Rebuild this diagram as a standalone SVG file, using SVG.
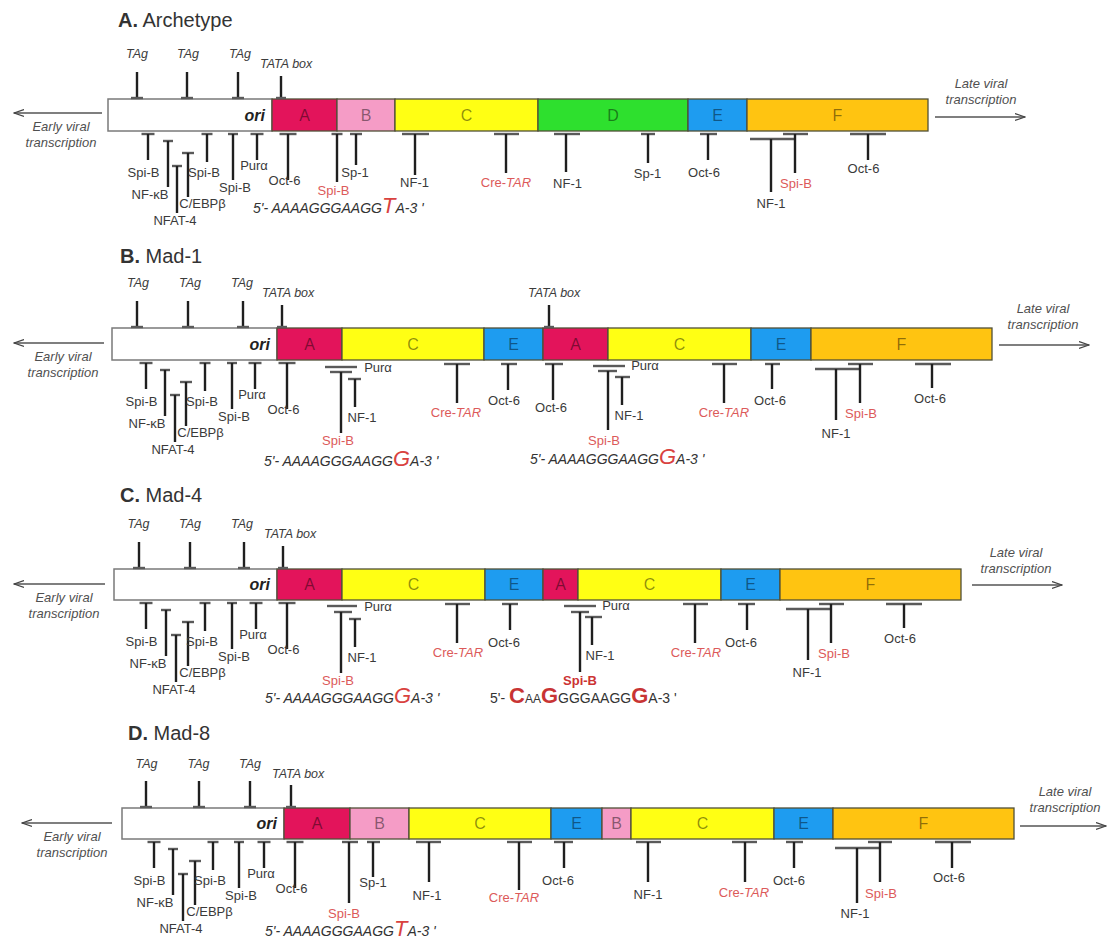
<svg xmlns="http://www.w3.org/2000/svg" width="1108" height="947" viewBox="0 0 1108 947">
<style>
text{font-family:"Liberation Sans",Arial,sans-serif}
.ttl{font-size:20px;fill:#333}
.lb{font-size:13px;fill:#3a3a3a;text-anchor:middle}
.rd{fill:#dc5a5a}
.bd{font-weight:bold;fill:#cc3333}
.tag{font-size:12.5px;font-style:italic;fill:#3c3c3c;text-anchor:middle}
.tata{font-size:12.5px;font-style:italic;fill:#3c3c3c}
.tr{font-size:13px;font-style:italic;fill:#505050;text-anchor:middle}
.seq{font-size:14px;font-style:italic;fill:#333}
.sequ{font-size:14px;fill:#333}
.big{font-size:22px;fill:#d9423f}
.bigb{font-size:22px;font-weight:bold;fill:#c83434}
.stem{stroke:#1f1f1f;stroke-width:2.4;fill:none}
.bar{stroke:#5a5a5a;stroke-width:2.4;fill:none}
.blk{stroke:#505038;stroke-width:1.3}
.box{fill:#fff;stroke:#7a7a7a;stroke-width:1.5}
.bl{font-size:16px;fill:#000;fill-opacity:.45;text-anchor:middle}
.ori{font-size:16px;font-weight:bold;font-style:italic;fill:#222;text-anchor:end}
.arr{stroke:#555;stroke-width:1.3;fill:none;marker-end:url(#ah)}
.cA{fill:#e3145b}.cB{fill:#f59cc6}.cC{fill:#ffff14}.cD{fill:#2ee02e}.cE{fill:#1e9cf0}.cF{fill:#ffc411}
</style>
<defs>
<marker id="ah" markerWidth="11" markerHeight="9" refX="10" refY="4.5" orient="auto" markerUnits="userSpaceOnUse">
<path d="M0,1 L10,4.5 L0,8" fill="none" stroke="#444" stroke-width="1.2"/>
</marker>
</defs>

<!-- ================= PANEL A ================= -->
<g id="panel-A">
<text class="ttl" x="118" y="27"><tspan font-weight="bold">A.</tspan> Archetype</text>
<g id="A-connectors">
<path class="arr" d="M102 113H14"/>
<path class="arr" d="M935 117H1025"/>
</g>
<text class="tr" x="61" y="131">Early viral</text><text class="tr" x="61" y="147">transcription</text>
<text class="tr" x="981" y="88">Late viral</text><text class="tr" x="981" y="104">transcription</text>
<g id="A-ori"><rect class="box" x="108" y="99" width="164" height="32"/><text class="ori" x="265" y="121">ori</text></g>
<g id="A-bA"><rect class="blk cA" x="272" y="99" width="65" height="32"/><text class="bl" x="304.5" y="121">A</text></g>
<g id="A-bB"><rect class="blk cB" x="337" y="99" width="58" height="32"/><text class="bl" x="366" y="121">B</text></g>
<g id="A-bC"><rect class="blk cC" x="395" y="99" width="143" height="32"/><text class="bl" x="466.5" y="121">C</text></g>
<g id="A-bD"><rect class="blk cD" x="538" y="99" width="150" height="32"/><text class="bl" x="613" y="121">D</text></g>
<g id="A-bE"><rect class="blk cE" x="688" y="99" width="59" height="32"/><text class="bl" x="717.5" y="121">E</text></g>
<g id="A-bF"><rect class="blk cF" x="747" y="99" width="181" height="32"/><text class="bl" x="837.5" y="121">F</text></g>
<g id="A-tag1"><path class="stem" d="M137 72V98"/><path class="bar" d="M131 98H143"/><text class="tag" x="137" y="58">TAg</text></g>
<g id="A-tag2"><path class="stem" d="M187 72V98"/><path class="bar" d="M181 98H193"/><text class="tag" x="188" y="58">TAg</text></g>
<g id="A-tag3"><path class="stem" d="M238 72V98"/><path class="bar" d="M232 98H244"/><text class="tag" x="240" y="58">TAg</text></g>
<g id="A-tata"><path class="stem" d="M281 76V98"/><path class="bar" d="M276 98H286"/><text class="tata" x="260" y="68">TATA box</text></g>
<g id="A-s1"><path class="bar" d="M141.5 134H154.5"/><path class="stem" d="M148 134V160"/><text class="lb" x="143.5" y="177">Spi-B</text></g>
<g id="A-s2"><path class="bar" d="M163 141H173"/><path class="stem" d="M168 141V187"/><text class="lb" x="150" y="199">NF-κB</text></g>
<g id="A-s3"><path class="bar" d="M172 166H182"/><path class="stem" d="M177 166V213"/><text class="lb" x="175" y="225">NFAT-4</text></g>
<g id="A-s4"><path class="bar" d="M182 153H194"/><path class="stem" d="M188 153V197"/><text class="lb" x="202.5" y="208">C/EBPβ</text></g>
<g id="A-s5"><path class="bar" d="M201.5 134H212.5"/><path class="stem" d="M207 134V162"/><text class="lb" x="204" y="177">Spi-B</text></g>
<g id="A-s6"><path class="bar" d="M228 134H238"/><path class="stem" d="M233 134V180"/><text class="lb" x="235" y="192">Spi-B</text></g>
<g id="A-s7"><path class="bar" d="M250.5 134H263.5"/><path class="stem" d="M257 134V160"/><text class="lb" x="254" y="170">Purα</text></g>
<g id="A-s8"><path class="bar" d="M279.5 134H296.5"/><path class="stem" d="M288 134V180"/><text class="lb" x="284.5" y="185">Oct-6</text></g>
<g id="A-s9"><path class="bar" d="M331.5 134H342.5"/><path class="stem" d="M337 134V182"/><text class="lb rd" x="333.5" y="195">Spi-B</text></g>
<g id="A-s10"><path class="bar" d="M350 134H362"/><path class="stem" d="M356 134V165"/><text class="lb" x="355" y="177">Sp-1</text></g>
<g id="A-s11"><path class="bar" d="M402 134H429"/><path class="stem" d="M415 134V175"/><text class="lb" x="414.5" y="187">NF-1</text></g>
<g id="A-s12"><path class="bar" d="M494 134H519"/><path class="stem" d="M506 134V173"/><text class="lb rd" x="506" y="187">Cre-<tspan font-style="italic">TAR</tspan></text></g>
<g id="A-s13"><path class="bar" d="M554 134H580"/><path class="stem" d="M566 134V172"/><text class="lb" x="567.5" y="188">NF-1</text></g>
<g id="A-s14"><path class="bar" d="M641 134H655"/><path class="stem" d="M648 134V163"/><text class="lb" x="647.5" y="178">Sp-1</text></g>
<g id="A-s15"><path class="bar" d="M700 134H717"/><path class="stem" d="M708 134V160"/><text class="lb" x="704" y="177">Oct-6</text></g>
<g id="A-s16"><path class="bar" d="M750 139H794"/><path class="stem" d="M771 139V192"/><text class="lb" x="771" y="208">NF-1</text></g>
<g id="A-s17"><path class="bar" d="M783 134H808"/><path class="stem" d="M795 134V173"/><text class="lb rd" x="796" y="188">Spi-B</text></g>
<g id="A-s18"><path class="bar" d="M850 134H886"/><path class="stem" d="M868 134V160"/><text class="lb" x="863.5" y="173">Oct-6</text></g>
<text class="seq" x="253" y="213">5'- AAAAGGGAAGG<tspan class="big">T</tspan>A-3 '</text>
</g>

<!-- ================= PANEL B ================= -->
<g id="panel-B">
<text class="ttl" x="120" y="263"><tspan font-weight="bold">B.</tspan> Mad-1</text>
<g id="B-connectors">
<path class="arr" d="M104 343H14"/>
<path class="arr" d="M999 345H1089"/>
</g>
<text class="tr" x="63" y="361">Early viral</text><text class="tr" x="63" y="377">transcription</text>
<text class="tr" x="1043" y="313">Late viral</text><text class="tr" x="1043" y="329">transcription</text>
<g id="B-ori"><rect class="box" x="112" y="328" width="165" height="32"/><text class="ori" x="270" y="350">ori</text></g>
<g id="B-bA1"><rect class="blk cA" x="277" y="328" width="65" height="32"/><text class="bl" x="309.5" y="350">A</text></g>
<g id="B-bC1"><rect class="blk cC" x="342" y="328" width="142" height="32"/><text class="bl" x="413" y="350">C</text></g>
<g id="B-bE1"><rect class="blk cE" x="484" y="328" width="59" height="32"/><text class="bl" x="513.5" y="350">E</text></g>
<g id="B-bA2"><rect class="blk cA" x="543" y="328" width="65" height="32"/><text class="bl" x="575.5" y="350">A</text></g>
<g id="B-bC2"><rect class="blk cC" x="608" y="328" width="143" height="32"/><text class="bl" x="679.5" y="350">C</text></g>
<g id="B-bE2"><rect class="blk cE" x="751" y="328" width="60" height="32"/><text class="bl" x="781" y="350">E</text></g>
<g id="B-bF"><rect class="blk cF" x="811" y="328" width="181" height="32"/><text class="bl" x="901.5" y="350">F</text></g>
<g id="B-tag1"><path class="stem" d="M137 301V327"/><path class="bar" d="M131 327H143"/><text class="tag" x="138" y="287">TAg</text></g>
<g id="B-tag2"><path class="stem" d="M188 301V327"/><path class="bar" d="M182 327H194"/><text class="tag" x="190" y="287">TAg</text></g>
<g id="B-tag3"><path class="stem" d="M243 301V327"/><path class="bar" d="M237 327H249"/><text class="tag" x="242" y="287">TAg</text></g>
<g id="B-tata1"><path class="stem" d="M282 305V327"/><path class="bar" d="M277 327H287"/><text class="tata" x="262" y="297">TATA box</text></g>
<g id="B-tata2"><path class="stem" d="M549 305V327"/><path class="bar" d="M544 327H554"/><text class="tata" x="528" y="297">TATA box</text></g>
<g id="B-s1"><path class="bar" d="M139.5 363H152.5"/><path class="stem" d="M146 363V389"/><text class="lb" x="141.5" y="406">Spi-B</text></g>
<g id="B-s2"><path class="bar" d="M160 370H170"/><path class="stem" d="M165 370V416"/><text class="lb" x="147" y="428">NF-κB</text></g>
<g id="B-s3"><path class="bar" d="M170 395H180"/><path class="stem" d="M175 395V442"/><text class="lb" x="173" y="454">NFAT-4</text></g>
<g id="B-s4"><path class="bar" d="M180 382H192"/><path class="stem" d="M186 382V426"/><text class="lb" x="200.5" y="437">C/EBPβ</text></g>
<g id="B-s5"><path class="bar" d="M199.5 363H210.5"/><path class="stem" d="M205 363V391"/><text class="lb" x="202" y="406">Spi-B</text></g>
<g id="B-s6"><path class="bar" d="M227 363H237"/><path class="stem" d="M232 363V409"/><text class="lb" x="234" y="421">Spi-B</text></g>
<g id="B-s7"><path class="bar" d="M248.5 363H261.5"/><path class="stem" d="M255 363V389"/><text class="lb" x="252" y="399">Purα</text></g>
<g id="B-s8"><path class="bar" d="M278.5 363H295.5"/><path class="stem" d="M287 363V409"/><text class="lb" x="283.5" y="414">Oct-6</text></g>
<g id="B-s9"><path class="bar" d="M325 367H357"/><text class="lb" x="378" y="372">Purα</text></g>
<g id="B-s10"><path class="bar" d="M330 372H352"/><path class="stem" d="M341 372V433"/><text class="lb rd" x="338" y="445">Spi-B</text></g>
<g id="B-s11"><path class="bar" d="M348 379H361"/><path class="stem" d="M355 379V407"/><text class="lb" x="362" y="422">NF-1</text></g>
<g id="B-s12"><path class="bar" d="M444 364H470"/><path class="stem" d="M457 364V403"/><text class="lb rd" x="456" y="417">Cre-<tspan font-style="italic">TAR</tspan></text></g>
<g id="B-s13"><path class="bar" d="M501 364H517"/><path class="stem" d="M508 364V390"/><text class="lb" x="504" y="405">Oct-6</text></g>
<g id="B-s14"><path class="bar" d="M545 364H563"/><path class="stem" d="M553 364V400"/><text class="lb" x="551" y="412">Oct-6</text></g>
<g id="B-s15"><path class="bar" d="M593 366H625"/><text class="lb" x="645" y="370">Purα</text></g>
<g id="B-s16"><path class="bar" d="M598 371H617"/><path class="stem" d="M608 371V430"/><text class="lb rd" x="604" y="445">Spi-B</text></g>
<g id="B-s17"><path class="bar" d="M615 377H630"/><path class="stem" d="M622 377V405"/><text class="lb" x="629" y="420">NF-1</text></g>
<g id="B-s18"><path class="bar" d="M712 364H737"/><path class="stem" d="M724 364V403"/><text class="lb rd" x="724" y="417">Cre-<tspan font-style="italic">TAR</tspan></text></g>
<g id="B-s19"><path class="bar" d="M765 364H780"/><path class="stem" d="M772 364V389"/><text class="lb" x="770" y="405">Oct-6</text></g>
<g id="B-s20"><path class="bar" d="M815 369H859"/><path class="stem" d="M836 369V420"/><text class="lb" x="836" y="438">NF-1</text></g>
<g id="B-s21"><path class="bar" d="M848 364H873"/><path class="stem" d="M860 364V403"/><text class="lb rd" x="861" y="418">Spi-B</text></g>
<g id="B-s22"><path class="bar" d="M915 364H951"/><path class="stem" d="M932 364V388"/><text class="lb" x="930" y="403">Oct-6</text></g>
<text class="seq" x="264" y="466">5'- AAAAGGGAAGG<tspan class="big">G</tspan>A-3 '</text>
<text class="seq" x="530" y="464">5'- AAAAGGGAAGG<tspan class="big">G</tspan>A-3 '</text>
</g>

<!-- ================= PANEL C ================= -->
<g id="panel-C">
<text class="ttl" x="120" y="502"><tspan font-weight="bold">C.</tspan> Mad-4</text>
<g id="C-connectors">
<path class="arr" d="M105 584H14"/>
<path class="arr" d="M972 585H1062"/>
</g>
<text class="tr" x="64" y="602">Early viral</text><text class="tr" x="64" y="618">transcription</text>
<text class="tr" x="1016" y="557">Late viral</text><text class="tr" x="1016" y="573">transcription</text>
<g id="C-ori"><rect class="box" x="114" y="569" width="163" height="31"/><text class="ori" x="270" y="590">ori</text></g>
<g id="C-bA1"><rect class="blk cA" x="277" y="569" width="65" height="31"/><text class="bl" x="309.5" y="590">A</text></g>
<g id="C-bC1"><rect class="blk cC" x="342" y="569" width="143" height="31"/><text class="bl" x="413.5" y="590">C</text></g>
<g id="C-bE1"><rect class="blk cE" x="485" y="569" width="58" height="31"/><text class="bl" x="514" y="590">E</text></g>
<g id="C-bA2"><rect class="blk cA" x="543" y="569" width="35" height="31"/><text class="bl" x="560.5" y="590">A</text></g>
<g id="C-bC2"><rect class="blk cC" x="578" y="569" width="143" height="31"/><text class="bl" x="649.5" y="590">C</text></g>
<g id="C-bE2"><rect class="blk cE" x="721" y="569" width="59" height="31"/><text class="bl" x="750.5" y="590">E</text></g>
<g id="C-bF"><rect class="blk cF" x="780" y="569" width="181" height="31"/><text class="bl" x="870.5" y="590">F</text></g>
<g id="C-tag1"><path class="stem" d="M139 542V568"/><path class="bar" d="M133 568H145"/><text class="tag" x="138.5" y="528">TAg</text></g>
<g id="C-tag2"><path class="stem" d="M190 542V568"/><path class="bar" d="M184 568H196"/><text class="tag" x="190" y="528">TAg</text></g>
<g id="C-tag3"><path class="stem" d="M244 542V568"/><path class="bar" d="M238 568H250"/><text class="tag" x="242" y="528">TAg</text></g>
<g id="C-tata"><path class="stem" d="M283 546V568"/><path class="bar" d="M278 568H288"/><text class="tata" x="264" y="538">TATA box</text></g>
<g id="C-s1"><path class="bar" d="M139.5 603H152.5"/><path class="stem" d="M146 603V629"/><text class="lb" x="141.5" y="646">Spi-B</text></g>
<g id="C-s2"><path class="bar" d="M161 610H171"/><path class="stem" d="M166 610V656"/><text class="lb" x="148" y="668">NF-κB</text></g>
<g id="C-s3"><path class="bar" d="M171 635H181"/><path class="stem" d="M176 635V682"/><text class="lb" x="174" y="694">NFAT-4</text></g>
<g id="C-s4"><path class="bar" d="M182 622H194"/><path class="stem" d="M188 622V666"/><text class="lb" x="202.5" y="677">C/EBPβ</text></g>
<g id="C-s5"><path class="bar" d="M199.5 603H210.5"/><path class="stem" d="M205 603V631"/><text class="lb" x="202" y="646">Spi-B</text></g>
<g id="C-s6"><path class="bar" d="M227 603H237"/><path class="stem" d="M232 603V649"/><text class="lb" x="234" y="661">Spi-B</text></g>
<g id="C-s7"><path class="bar" d="M249.5 603H262.5"/><path class="stem" d="M256 603V629"/><text class="lb" x="253" y="639">Purα</text></g>
<g id="C-s8"><path class="bar" d="M278.5 603H295.5"/><path class="stem" d="M287 603V649"/><text class="lb" x="283.5" y="654">Oct-6</text></g>
<g id="C-s9"><path class="bar" d="M327 606H357"/><text class="lb" x="378" y="611">Purα</text></g>
<g id="C-s10"><path class="bar" d="M334 612H352"/><path class="stem" d="M341 612V673"/><text class="lb rd" x="338" y="685">Spi-B</text></g>
<g id="C-s11"><path class="bar" d="M349 619H361"/><path class="stem" d="M355 619V647"/><text class="lb" x="362" y="662">NF-1</text></g>
<g id="C-s12"><path class="bar" d="M445 604H470"/><path class="stem" d="M457 604V643"/><text class="lb rd" x="458" y="657">Cre-<tspan font-style="italic">TAR</tspan></text></g>
<g id="C-s13"><path class="bar" d="M502 604H518"/><path class="stem" d="M510 604V630"/><text class="lb" x="504" y="647">Oct-6</text></g>
<g id="C-s14"><path class="bar" d="M564 606H596"/><text class="lb" x="616" y="610">Purα</text></g>
<g id="C-s15"><path class="bar" d="M571 612H589"/><path class="stem" d="M580 612V672"/><text class="lb bd" x="580" y="685">Spi-B</text></g>
<g id="C-s16"><path class="bar" d="M585 617H602"/><path class="stem" d="M592 617V645"/><text class="lb" x="600" y="660">NF-1</text></g>
<g id="C-s17"><path class="bar" d="M683 604H708"/><path class="stem" d="M695 604V643"/><text class="lb rd" x="696" y="657">Cre-<tspan font-style="italic">TAR</tspan></text></g>
<g id="C-s18"><path class="bar" d="M738 604H755"/><path class="stem" d="M747 604V630"/><text class="lb" x="741" y="647">Oct-6</text></g>
<g id="C-s19"><path class="bar" d="M786 609H830"/><path class="stem" d="M808 609V660"/><text class="lb" x="807" y="677">NF-1</text></g>
<g id="C-s20"><path class="bar" d="M819 604H844"/><path class="stem" d="M831 604V643"/><text class="lb rd" x="834" y="658">Spi-B</text></g>
<g id="C-s21"><path class="bar" d="M886 604H922"/><path class="stem" d="M904 604V628"/><text class="lb" x="900" y="643">Oct-6</text></g>
<text class="seq" x="265" y="703">5'- AAAAGGGAAGG<tspan class="big">G</tspan>A-3 '</text>
<text class="sequ" x="490" y="703">5'- <tspan class="bigb">C</tspan><tspan font-size="12">AA</tspan><tspan class="bigb">G</tspan>GGGAAGG<tspan class="bigb">G</tspan>A-3 '</text>
</g>

<!-- ================= PANEL D ================= -->
<g id="panel-D">
<text class="ttl" x="128" y="740"><tspan font-weight="bold">D.</tspan> Mad-8</text>
<g id="D-connectors">
<path class="arr" d="M112 823H22"/>
<path class="arr" d="M1020 826H1106"/>
</g>
<text class="tr" x="72" y="841">Early viral</text><text class="tr" x="72" y="857">transcription</text>
<text class="tr" x="1065" y="796">Late viral</text><text class="tr" x="1065" y="812">transcription</text>
<g id="D-ori"><rect class="box" x="122" y="808" width="162" height="31"/><text class="ori" x="277" y="829">ori</text></g>
<g id="D-bA"><rect class="blk cA" x="284" y="808" width="66" height="31"/><text class="bl" x="317" y="829">A</text></g>
<g id="D-bB1"><rect class="blk cB" x="350" y="808" width="59" height="31"/><text class="bl" x="379.5" y="829">B</text></g>
<g id="D-bC1"><rect class="blk cC" x="409" y="808" width="142" height="31"/><text class="bl" x="480" y="829">C</text></g>
<g id="D-bE1"><rect class="blk cE" x="551" y="808" width="51" height="31"/><text class="bl" x="576.5" y="829">E</text></g>
<g id="D-bB2"><rect class="blk cB" x="602" y="808" width="29" height="31"/><text class="bl" x="616.5" y="829">B</text></g>
<g id="D-bC2"><rect class="blk cC" x="631" y="808" width="143" height="31"/><text class="bl" x="702.5" y="829">C</text></g>
<g id="D-bE2"><rect class="blk cE" x="774" y="808" width="59" height="31"/><text class="bl" x="803.5" y="829">E</text></g>
<g id="D-bF"><rect class="blk cF" x="833" y="808" width="181" height="31"/><text class="bl" x="923.5" y="829">F</text></g>
<g id="D-tag1"><path class="stem" d="M146 781V807"/><path class="bar" d="M140 807H152"/><text class="tag" x="146.5" y="768">TAg</text></g>
<g id="D-tag2"><path class="stem" d="M199 781V807"/><path class="bar" d="M193 807H205"/><text class="tag" x="198.5" y="768">TAg</text></g>
<g id="D-tag3"><path class="stem" d="M250 781V807"/><path class="bar" d="M244 807H256"/><text class="tag" x="250" y="768">TAg</text></g>
<g id="D-tata"><path class="stem" d="M291 785V807"/><path class="bar" d="M286 807H296"/><text class="tata" x="272" y="778">TATA box</text></g>
<g id="D-s1"><path class="bar" d="M147.5 842H160.5"/><path class="stem" d="M154 842V868"/><text class="lb" x="149.5" y="885">Spi-B</text></g>
<g id="D-s2"><path class="bar" d="M168 849H178"/><path class="stem" d="M173 849V895"/><text class="lb" x="155" y="907">NF-κB</text></g>
<g id="D-s3"><path class="bar" d="M178 874H188"/><path class="stem" d="M183 874V921"/><text class="lb" x="181" y="933">NFAT-4</text></g>
<g id="D-s4"><path class="bar" d="M189 861H201"/><path class="stem" d="M195 861V905"/><text class="lb" x="209.5" y="916">C/EBPβ</text></g>
<g id="D-s5"><path class="bar" d="M207.5 842H218.5"/><path class="stem" d="M213 842V870"/><text class="lb" x="210" y="885">Spi-B</text></g>
<g id="D-s6"><path class="bar" d="M234 842H244"/><path class="stem" d="M239 842V888"/><text class="lb" x="241" y="900">Spi-B</text></g>
<g id="D-s7"><path class="bar" d="M257.5 842H270.5"/><path class="stem" d="M264 842V868"/><text class="lb" x="261" y="878">Purα</text></g>
<g id="D-s8"><path class="bar" d="M286.5 842H303.5"/><path class="stem" d="M295 842V888"/><text class="lb" x="291.5" y="893">Oct-6</text></g>
<g id="D-s9"><path class="bar" d="M342 842H358"/><path class="stem" d="M349 842V903"/><text class="lb rd" x="344" y="918">Spi-B</text></g>
<g id="D-s10"><path class="bar" d="M367 842H380"/><path class="stem" d="M373 842V877"/><text class="lb" x="373" y="887">Sp-1</text></g>
<g id="D-s11"><path class="bar" d="M416 842H441"/><path class="stem" d="M429 842V882"/><text class="lb" x="427" y="900">NF-1</text></g>
<g id="D-s12"><path class="bar" d="M507 842H532"/><path class="stem" d="M519 842V890"/><text class="lb rd" x="514" y="902">Cre-<tspan font-style="italic">TAR</tspan></text></g>
<g id="D-s13"><path class="bar" d="M554 842H573"/><path class="stem" d="M564 842V868"/><text class="lb" x="558" y="885">Oct-6</text></g>
<g id="D-s14"><path class="bar" d="M636 842H661"/><path class="stem" d="M648 842V882"/><text class="lb" x="648" y="899">NF-1</text></g>
<g id="D-s15"><path class="bar" d="M732 842H757"/><path class="stem" d="M745 842V882"/><text class="lb rd" x="744" y="897">Cre-<tspan font-style="italic">TAR</tspan></text></g>
<g id="D-s16"><path class="bar" d="M786 842H803"/><path class="stem" d="M794 842V868"/><text class="lb" x="789" y="885">Oct-6</text></g>
<g id="D-s17"><path class="bar" d="M835 848H879"/><path class="stem" d="M857 848V903"/><text class="lb" x="855" y="918">NF-1</text></g>
<g id="D-s18"><path class="bar" d="M868 842H892"/><path class="stem" d="M880 842V882"/><text class="lb rd" x="881" y="898">Spi-B</text></g>
<g id="D-s19"><path class="bar" d="M935 842H971"/><path class="stem" d="M952 842V868"/><text class="lb" x="949" y="882">Oct-6</text></g>
<text class="seq" x="265" y="936">5'- AAAAGGGAAGG<tspan class="big">T</tspan>A-3 '</text>
</g>
</svg>
